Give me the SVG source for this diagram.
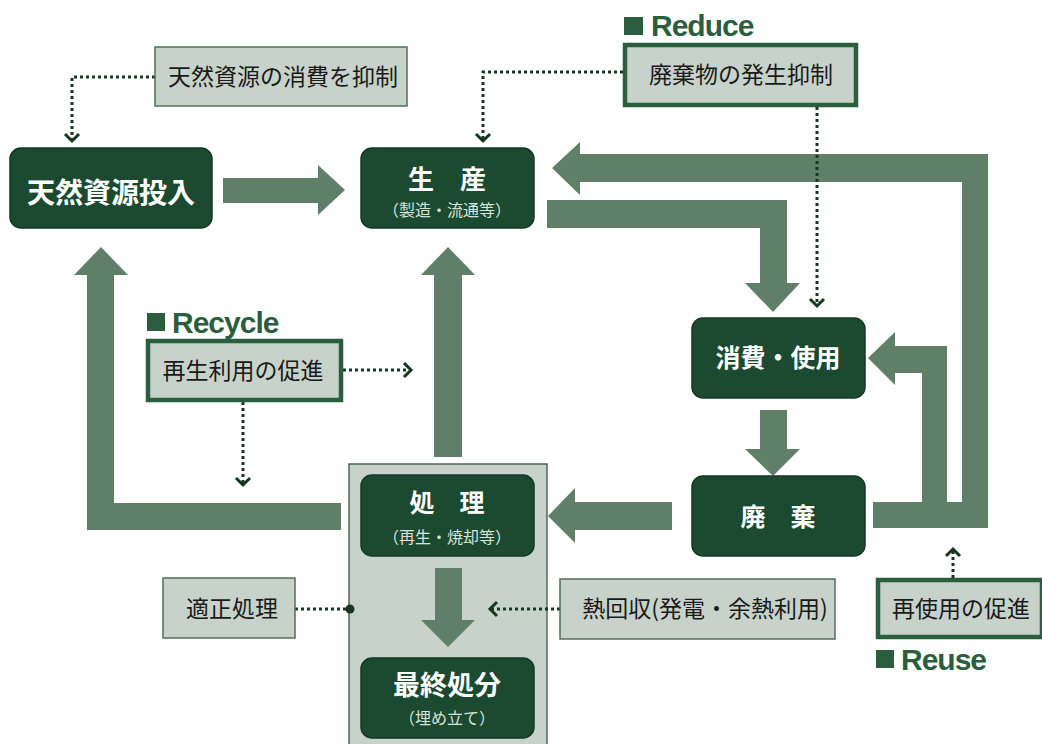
<svg xmlns="http://www.w3.org/2000/svg" width="1042" height="744" viewBox="0 0 1042 744">
<style>
.node{fill:#1c4a31;stroke:#143825;stroke-width:1.5}
.arrow{fill:#5f7f69}
.box{fill:#c7d3ca;stroke:#4f7059;stroke-width:1.5}
.box2{fill:#c7d3ca;stroke:#2b5e3e;stroke-width:4.5}
.dot{fill:none;stroke:#163722;stroke-width:3;stroke-dasharray:3 3}
.nt{font-family:"Noto Sans CJK JP","Noto Sans",sans-serif;font-weight:bold;fill:#ffffff;text-anchor:middle}
.st{font-family:"Noto Sans CJK JP","Noto Sans",sans-serif;fill:#d9e3dc;font-size:16px;text-anchor:middle}
.bt{font-family:"Noto Sans CJK JP","Noto Sans",sans-serif;fill:#1a1a1a;font-size:23px;text-anchor:middle}
.lbl{font-family:"Liberation Sans",Arial,sans-serif;font-weight:bold;fill:#2b5e3e;font-size:30px;letter-spacing:-1px}
.sq{fill:#2b5e3e}
</style>
<defs>
<marker id="chev" viewBox="-10 -10 20 20" refX="0" refY="0" markerWidth="20" markerHeight="20" markerUnits="userSpaceOnUse" orient="auto">
<path d="M-7,-7 L0,0 L-7,7" fill="none" stroke="#163722" stroke-width="3"/>
</marker>
</defs>
<rect width="1042" height="744" fill="#ffffff"/>

<g id="container">
<rect x="349" y="464" width="198" height="290" fill="#c7d3ca" stroke="#4f6b58" stroke-width="1.5"/>
</g>

<g id="connectors">
<polygon class="arrow" points="223,178 318,178 318,165 345,190 318,215 318,203 223,203"/>
<polygon class="arrow" points="547,200 787,200 787,283 800,283 773,312 745,283 760,283 760,228 547,228"/>
<polygon class="arrow" points="760,410 787,410 787,449 800,449 773,476 745,449 760,449"/>
<polygon class="arrow" points="672,502 575,502 575,488 548,516 575,543 575,530 672,530"/>
<polygon class="arrow" points="873,502 962,502 962,182 580,182 580,195 552,168 580,142 580,154 988,154 988,528 873,528"/>
<polygon class="arrow" points="922,503 922,373 895,373 895,385 868,358 895,332 895,346 947,346 947,503"/>
<polygon class="arrow" points="341,503 341,530 87,530 87,275 74,275 101,247 128,275 114,275 114,503"/>
<polygon class="arrow" points="434,457 434,275 421,275 448,247 475,275 462,275 462,457"/>
<polygon class="arrow" points="435,568 462,568 462,620 475,620 448,647 421,620 435,620"/>

<path class="dot" d="M155,77 H72 V141" marker-end="url(#chev)"/>
<path class="dot" d="M623,72 H483 V141" marker-end="url(#chev)"/>
<path class="dot" d="M817,107 V306" marker-end="url(#chev)"/>
<path class="dot" d="M343,370 H411" marker-end="url(#chev)"/>
<path class="dot" d="M243,402 V485" marker-end="url(#chev)"/>
<path class="dot" d="M560,609 H490" marker-end="url(#chev)"/>
<path class="dot" d="M953,578 V549" marker-end="url(#chev)"/>
<path class="dot" d="M295,609 H350"/>
<circle cx="350" cy="609" r="4.5" fill="#163722"/>
</g>

<g id="n-tennen">
<rect class="node" x="10" y="148" width="202" height="80" rx="11"/>
<text class="nt" x="111" y="203" font-size="28">天然資源投入</text>
</g>
<g id="n-seisan">
<rect class="node" x="361" y="148" width="173" height="80" rx="11"/>
<text class="nt" x="447" y="189" font-size="26">生　産</text>
<text class="st" x="447" y="216">（製造・流通等）</text>
</g>
<g id="n-shohi">
<rect class="node" x="692" y="318" width="173" height="80" rx="11"/>
<text class="nt" x="778" y="367" font-size="25">消費・使用</text>
</g>
<g id="n-haiki">
<rect class="node" x="692" y="476" width="173" height="80" rx="11"/>
<text class="nt" x="778" y="526" font-size="25">廃　棄</text>
</g>
<g id="n-shori">
<rect class="node" x="361" y="475" width="173" height="81" rx="11"/>
<text class="nt" x="447" y="512" font-size="25">処　理</text>
<text class="st" x="447" y="543">（再生・焼却等）</text>
</g>
<g id="n-saishu">
<rect class="node" x="361" y="658" width="173" height="80" rx="11"/>
<text class="nt" x="447" y="695" font-size="27">最終処分</text>
<text class="st" x="447" y="724">（埋め立て）</text>
</g>

<g id="b-yokusei">
<rect class="box" x="155" y="47" width="252" height="59"/>
<text class="bt" x="283" y="85">天然資源の消費を抑制</text>
</g>
<g id="b-reduce">
<rect class="sq" x="624" y="17" width="19" height="18"/>
<text class="lbl" x="651" y="36">Reduce</text>
<rect class="box2" x="625" y="45" width="231" height="60"/>
<text class="bt" x="741" y="83">廃棄物の発生抑制</text>
</g>
<g id="b-recycle">
<rect class="sq" x="147" y="313" width="18" height="18"/>
<text class="lbl" x="172" y="333">Recycle</text>
<rect class="box2" x="148" y="341" width="193" height="59"/>
<text class="bt" x="243" y="379">再生利用の促進</text>
</g>
<g id="b-tekisei">
<rect class="box" x="163" y="578" width="132" height="60"/>
<text class="bt" x="232" y="617" font-size="24">適正処理</text>
</g>
<g id="b-netsu">
<rect class="box" x="560" y="579" width="275" height="60"/>
<text class="bt" x="705" y="617">熱回収(発電・余熱利用)</text>
</g>
<g id="b-reuse">
<rect class="box2" x="878" y="580" width="164" height="57"/>
<text class="bt" x="961" y="617">再使用の促進</text>
<rect class="sq" x="876" y="650" width="18" height="18"/>
<text class="lbl" x="901" y="670">Reuse</text>
</g>
</svg>
